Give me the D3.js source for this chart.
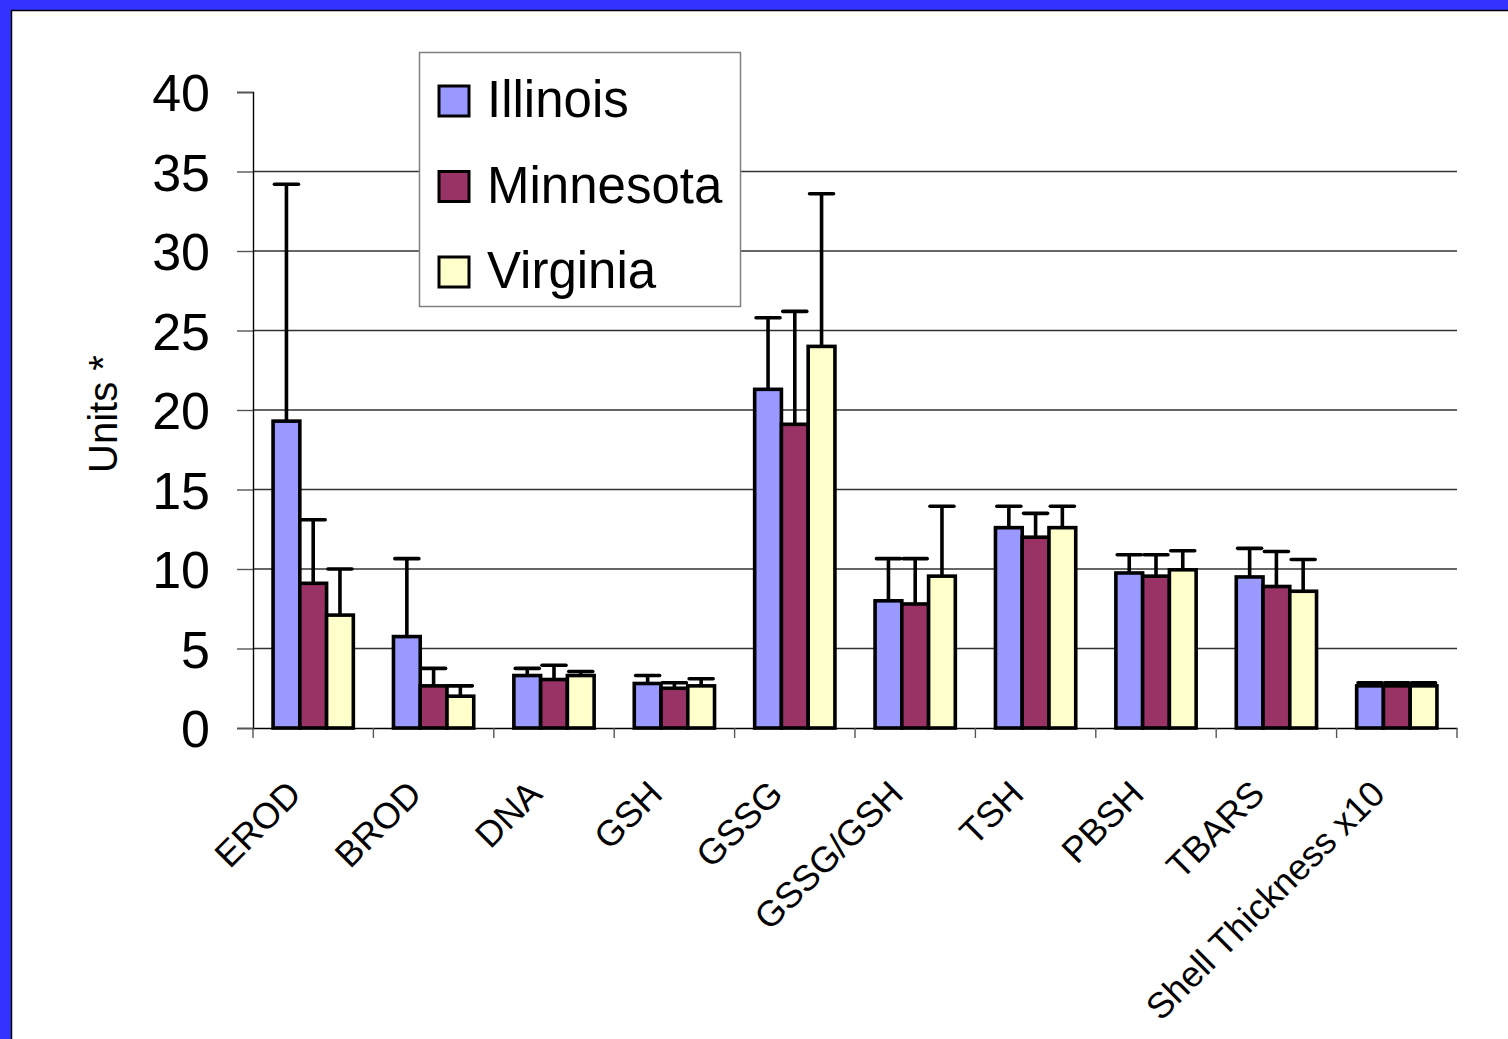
<!DOCTYPE html>
<html>
<head>
<meta charset="utf-8">
<script src="https://cdn.jsdelivr.net/npm/d3@7"></script>
<style>
  body { margin: 0; background: #3333ff; }
  svg { display: block; }
  text { font-family: "Liberation Sans", Arial, sans-serif; fill: #000; }
</style>
</head>
<body>
<div id="chart"></div>
<script>
// chart values
const categories = ['EROD', 'BROD', 'DNA', 'GSH', 'GSSG', 'GSSG/GSH', 'TSH', 'PBSH', 'TBARS', 'Shell Thickness x10'];
const series = ['Illinois', 'Minnesota', 'Virginia'];
const illinois = [19.3, 5.75, 3.3, 2.8, 21.3, 8.0, 12.6, 9.75, 9.5, 2.65];
const minnesota = [9.1, 2.65, 3.05, 2.5, 19.1, 7.8, 12.0, 9.55, 8.9, 2.65];
const virginia = [7.1, 2.0, 3.3, 2.65, 24.0, 9.55, 12.6, 9.95, 8.6, 2.65];
const illinoisSd = [14.9, 4.9, 0.45, 0.5, 4.5, 2.65, 1.35, 1.15, 1.8, 0.2];
const minnesotaSd = [4.0, 1.1, 0.9, 0.35, 7.1, 2.85, 1.5, 1.35, 2.2, 0.2];
const virginiaSd = [2.9, 0.65, 0.25, 0.45, 9.6, 4.4, 1.35, 1.2, 2.0, 0.2];
const yTicks = [0, 5, 10, 15, 20, 25, 30, 35, 40];

const state = {
    width: 1508,
    height: 1039,
    colors: ['#9999ff', '#993366', '#ffffcc'],
    plotLeft: 253,
    plotRight: 1457,
    plotTop: 92,
    plotBottom: 728
};

const values = [illinois, minnesota, virginia];
const sds = [illinoisSd, minnesotaSd, virginiaSd];

let svg = d3.select('#chart')
    .append('svg')
        .attr('width', state.width)
        .attr('height', state.height);

// slide frame
svg.append('rect')
    .attr('x', 0).attr('y', 0)
    .attr('width', state.width).attr('height', state.height)
    .style('fill', '#3333ff');
svg.append('rect')
    .attr('x', 11.5).attr('y', 10.5)
    .attr('width', state.width + 10).attr('height', state.height + 10)
    .style('fill', '#fff')
    .style('stroke', '#000')
    .style('stroke-width', 1.5);

let x0 = d3.scaleBand()
    .domain(categories)
    .range([state.plotLeft, state.plotRight]);

let x1 = d3.scaleBand()
    .domain(series)
    .range([x0.bandwidth() / 6, x0.bandwidth() * 5 / 6]);

let y = d3.scaleLinear()
    .domain([0, 40])
    .range([state.plotBottom, state.plotTop]);

// gridlines
svg.append('g')
    .selectAll('line')
    .data(yTicks.filter(d => d > 0 && d < 40))
    .enter()
    .append('line')
        .attr('x1', state.plotLeft)
        .attr('x2', state.plotRight)
        .attr('y1', d => y(d))
        .attr('y2', d => y(d))
        .style('stroke', '#333')
        .style('stroke-width', 1.4);

// y axis
let yAxis = svg.append('g')
    .attr('transform', `translate(${state.plotLeft},0)`)
    .call(d3.axisLeft(y).tickValues(yTicks).tickSize(16).tickPadding(27));
yAxis.select('.domain').style('stroke', '#000').style('stroke-width', 1.4);
yAxis.selectAll('.tick line').style('stroke', '#555').style('stroke-width', 1.4);
yAxis.selectAll('.tick text')
    .style('font-size', '52px')
    .style('font-family', '"Liberation Sans", Arial, sans-serif')
    .attr('dy', '0.36em');

// x axis
let xAxis = svg.append('g')
    .attr('transform', `translate(0,${state.plotBottom})`)
    .call(d3.axisBottom(x0).tickSize(0).tickFormat(''));
xAxis.select('.domain').style('stroke', '#000').style('stroke-width', 1.4);

let bounds = categories.map(c => x0(c)).concat([state.plotRight]);
svg.append('g')
    .selectAll('line')
    .data(bounds)
    .enter()
    .append('line')
        .attr('x1', d => d).attr('x2', d => d)
        .attr('y1', state.plotBottom).attr('y2', state.plotBottom + 10)
        .style('stroke', '#555')
        .style('stroke-width', 1.4);

svg.append('g')
    .selectAll('text')
    .data(categories)
    .enter()
    .append('text')
        .attr('transform', d => `translate(${x0(d) + x0.bandwidth() / 2 - 10},796) rotate(-45)`)
        .attr('text-anchor', 'end')
        .style('font-size', '36px')
        .text(d => d);

// y axis title
svg.append('text')
    .attr('transform', 'translate(117,414) rotate(-90)')
    .attr('text-anchor', 'middle')
    .style('font-size', '40px')
    .text('Units *');

// bars
let groups = svg.append('g')
    .selectAll('g')
    .data(categories)
    .enter()
    .append('g')
        .attr('transform', d => `translate(${x0(d)},0)`);

groups.selectAll('rect')
    .data((d, i) => series.map((s, j) => ({s: s, j: j, v: values[j][i]})))
    .enter()
    .append('rect')
        .attr('x', d => x1(d.s))
        .attr('y', d => y(d.v))
        .attr('width', x1.bandwidth())
        .attr('height', d => y(0) - y(d.v))
        .style('fill', d => state.colors[d.j])
        .style('stroke', '#000')
        .style('stroke-width', 3.6);

// error bars
let errs = groups.selectAll('g.err')
    .data((d, i) => series.map((s, j) => ({s: s, v: values[j][i], sd: sds[j][i]})))
    .enter()
    .append('g')
        .attr('class', 'err');

errs.append('line')
    .attr('x1', d => x1(d.s) + x1.bandwidth() / 2)
    .attr('x2', d => x1(d.s) + x1.bandwidth() / 2)
    .attr('y1', d => y(d.v))
    .attr('y2', d => y(d.v + d.sd))
    .style('stroke', '#000')
    .style('stroke-width', 3.6);

errs.append('line')
    .attr('x1', d => x1(d.s) + x1.bandwidth() / 2 - 12)
    .attr('x2', d => x1(d.s) + x1.bandwidth() / 2 + 12)
    .attr('y1', d => y(d.v + d.sd))
    .attr('y2', d => y(d.v + d.sd))
    .style('stroke', '#000')
    .style('stroke-width', 3.6)
    .style('stroke-linecap', 'round');

// legend
let legend = svg.append('g');
legend.append('rect')
    .attr('x', 419.5).attr('y', 52.5)
    .attr('width', 321).attr('height', 254)
    .style('fill', '#fff')
    .style('stroke', '#808080')
    .style('stroke-width', 1.5);

let items = legend.selectAll('g')
    .data(series)
    .enter()
    .append('g')
        .attr('transform', (d, i) => `translate(0,${i * 85.5})`);

items.append('rect')
    .attr('x', 439).attr('y', 86)
    .attr('width', 30).attr('height', 30)
    .style('fill', (d, i) => state.colors[i])
    .style('stroke', '#000')
    .style('stroke-width', 3);

items.append('text')
    .attr('x', 487).attr('y', 117)
    .style('font-size', '51px')
    .text(d => d);
</script>
</body>
</html>
